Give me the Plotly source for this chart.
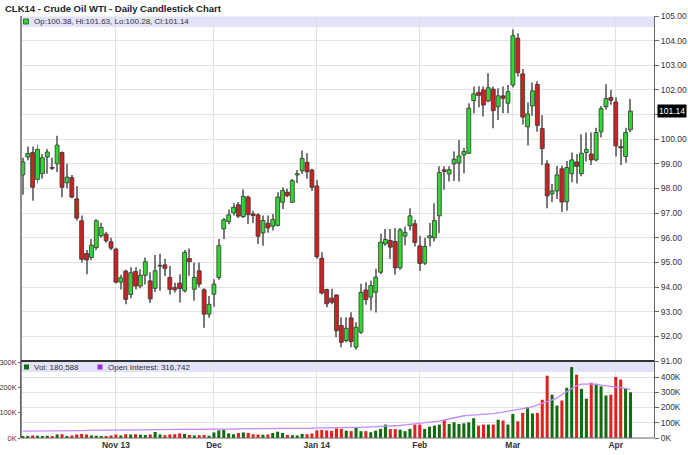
import pandas as pd
import plotly.graph_objects as go

# ---------------- data ----------------
holidays = ["2013-11-28", "2013-12-25", "2014-01-01", "2014-01-20", "2014-02-17"]
dates = [d.strftime("%Y-%m-%d") for d in pd.bdate_range("2013-10-07", "2014-04-04")
         if d.strftime("%Y-%m-%d") not in holidays]

opens = [98.55, 99.28, 99.46, 98.37, 98.60, 99.28, 98.85, 99.00, 99.46, 98.23,
         98.44, 97.58, 96.69, 95.36, 95.20, 95.60, 96.08, 96.15, 95.84, 95.54,
         94.20, 94.65, 93.70, 94.63, 94.04, 94.48, 94.25, 93.95, 94.85, 94.90,
         94.39, 93.98, 94.16, 93.85, 95.16, 93.91, 94.66, 93.89, 92.90, 93.71,
         94.39, 96.36, 96.66, 97.01, 97.34, 96.86, 97.65, 96.97, 96.93, 96.20,
         96.59, 96.47, 96.50, 97.44, 97.85, 97.44, 98.55, 98.72, 99.06, 98.75,
         98.10, 95.17, 93.90, 93.55, 93.68, 92.44, 91.83, 92.75, 91.56, 92.17,
         93.88, 93.59, 93.79, 94.60, 95.75, 95.89, 95.85, 94.78, 96.07, 96.49,
         96.57, 95.67, 94.97, 96.00, 96.00, 96.89, 98.76, 98.59, 99.00, 99.03,
         99.36, 99.43, 101.57, 101.90, 102.00, 101.55, 102.03, 101.32, 101.76, 101.46,
         102.20, 104.10, 102.65, 100.50, 101.35, 102.22, 100.43, 99.00, 97.78, 97.90,
         98.80, 97.46, 98.60, 99.08, 98.60, 99.46, 99.40, 99.16, 100.30, 101.32,
         101.69, 101.51, 99.70, 99.30, 100.38]
highs = [99.25, 99.70, 99.70, 99.78, 99.40, 99.60, 99.25, 100.14, 99.50, 99.00,
         98.55, 98.10, 96.90, 95.50, 95.95, 96.75, 96.60, 96.25, 96.00, 95.60,
         94.50, 94.70, 94.80, 94.80, 94.72, 95.20, 94.60, 95.30, 95.35, 95.15,
         94.86, 94.18, 94.52, 95.50, 95.57, 95.00, 95.00, 93.95, 93.64, 94.32,
         95.95, 96.80, 97.15, 97.40, 97.45, 97.96, 97.72, 97.10, 97.00, 96.90,
         96.90, 96.97, 97.85, 98.05, 97.99, 98.39, 98.75, 99.54, 99.43, 98.80,
         98.35, 95.41, 93.93, 93.93, 93.70, 92.78, 92.78, 92.98, 92.57, 94.13,
         94.20, 94.26, 94.74, 96.16, 96.36, 96.36, 96.40, 96.40, 96.45, 97.20,
         96.73, 96.08, 96.00, 96.60, 97.40, 98.90, 98.90, 98.90, 99.50, 99.97,
         99.64, 101.46, 102.14, 102.15, 102.14, 102.68, 102.14, 102.07, 102.14, 102.20,
         104.45, 104.30, 102.85, 101.50, 102.30, 102.35, 100.97, 99.15, 98.18, 98.92,
         98.92, 99.12, 99.46, 99.40, 100.20, 100.27, 100.27, 100.47, 101.35, 102.23,
         102.00, 101.70, 100.00, 100.47, 101.63]
lows = [97.75, 99.15, 97.50, 98.20, 98.40, 98.60, 98.75, 98.67, 97.65, 98.00,
        97.60, 96.70, 95.00, 94.52, 95.10, 95.50, 96.00, 95.80, 95.50, 94.15,
        93.90, 93.30, 93.55, 93.90, 93.95, 94.10, 93.35, 93.80, 93.85, 94.45,
        93.70, 93.78, 93.37, 93.78, 94.46, 93.44, 93.98, 92.35, 92.76, 93.20,
        94.30, 95.95, 96.55, 96.90, 96.80, 96.80, 96.56, 96.60, 95.75, 95.68,
        96.20, 96.30, 96.47, 97.17, 97.65, 97.42, 98.22, 98.60, 98.40, 97.90,
        95.15, 93.70, 93.18, 93.30, 91.96, 91.56, 91.76, 91.56, 91.46, 92.10,
        93.28, 93.05, 92.97, 94.53, 95.68, 95.14, 94.50, 94.70, 95.70, 96.30,
        95.65, 94.65, 94.90, 95.65, 95.85, 96.19, 97.95, 98.28, 98.30, 98.28,
        98.62, 99.40, 101.05, 101.30, 100.92, 101.50, 100.45, 100.78, 101.05, 101.05,
        102.10, 102.55, 100.60, 99.75, 100.95, 100.30, 98.95, 97.20, 97.45, 97.57,
        97.05, 97.10, 98.25, 98.20, 98.50, 99.10, 98.95, 99.10, 100.07, 101.20,
        101.40, 99.30, 98.95, 99.05, 100.28]
closes = [99.08, 99.42, 98.05, 99.59, 99.25, 99.48, 98.82, 99.76, 98.05, 98.46,
          97.65, 96.80, 95.13, 95.10, 95.70, 96.69, 96.42, 95.88, 95.58, 94.20,
          94.38, 93.50, 94.58, 94.04, 94.48, 95.03, 93.52, 94.66, 94.88, 94.76,
          93.91, 93.89, 93.94, 95.41, 95.03, 94.39, 94.12, 92.90, 93.30, 94.12,
          95.68, 96.73, 96.93, 97.24, 96.88, 97.68, 96.94, 96.90, 96.06, 96.70,
          96.40, 96.74, 97.65, 97.92, 97.71, 98.32, 98.60, 99.22, 98.68, 98.05,
          95.23, 93.76, 93.32, 93.38, 92.23, 91.76, 92.33, 91.79, 92.37, 93.79,
          93.49, 94.06, 94.40, 95.82, 95.93, 95.62, 94.78, 96.32, 96.22, 96.89,
          95.81, 94.96, 95.65, 96.08, 96.70, 98.65, 98.69, 98.76, 99.19, 99.32,
          99.50, 101.26, 101.84, 101.78, 101.39, 102.09, 101.16, 101.76, 101.66, 101.93,
          104.20, 102.70, 100.90, 101.03, 101.96, 100.56, 99.62, 97.70, 97.90, 98.55,
          97.45, 98.85, 99.16, 98.90, 99.43, 99.59, 99.16, 100.27, 101.24, 101.65,
          101.58, 99.73, 99.65, 100.27, 101.14]
volume_k = [6, 8, 10, 9, 7, 9, 8, 14, 15, 8,
            10, 14, 16, 14, 10, 9, 7, 8, 10, 14,
            10, 15, 14, 15, 13, 12, 14, 24, 14, 11,
            14, 15, 18, 16, 12, 10, 11, 12, 9, 22,
            30, 32, 18, 15, 20, 22, 20, 15, 14, 13,
            14, 20, 25, 20, 12, 11, 10, 16, 15, 18,
            30, 32, 30, 28, 38, 36, 29, 27, 40, 27,
            27, 23, 29, 36, 53, 35, 35, 33, 27, 36,
            53, 53, 36, 45, 49, 53, 71, 55, 62, 55,
            58, 62, 78, 49, 53, 53, 53, 72, 69, 53,
            95, 66, 99, 122, 97, 99, 151, 246, 171, 128,
            148, 198, 280, 250, 194, 155, 218, 214, 204, 168,
            171, 241, 231, 194, 180.588]
open_interest_k = [45, 45, 46, 46, 46, 47, 47, 47, 48, 48,
                   48, 49, 49, 50, 50, 50, 51, 51, 52, 52,
                   52, 53, 53, 53, 54, 54, 54, 55, 55, 55,
                   55, 56, 56, 56, 57, 57, 57, 58, 58, 58,
                   58, 59, 59, 59, 60, 60, 60, 60, 61, 61,
                   61, 61, 62, 62, 62, 62, 63, 63, 63, 64,
                   66, 66, 67, 67, 68, 68, 69, 69, 70, 70,
                   71, 72, 73, 74, 75, 76, 78, 82, 86, 89,
                   92, 96, 99, 102, 106, 111, 118, 125, 132, 139,
                   146, 148, 150, 152, 154, 155, 160, 165, 170, 175,
                   180, 186, 192, 198, 206, 215, 226, 238, 250, 261,
                   285, 305, 327, 342, 353, 355, 355, 352, 348, 342,
                   340, 338, 334, 326, 316.742]

month_ticks = ["2013-11-01", "2013-12-02", "2014-01-02", "2014-02-03", "2014-03-03", "2014-04-01"]
month_labels = ["Nov 13", "Dec", "Jan 14", "Feb", "Mar", "Apr"]
price_ticks = list(range(91, 106))
vol_ticks = [0, 100, 200, 300]
oi_ticks = [0, 100, 200, 300, 400]
title_text = "CLK14 - Crude Oil WTI - Daily Candlestick Chart"
price_legend = "Op:100.38, Hi:101.63, Lo:100.28, Cl:101.14"
vol_legend = "Vol: 180,588"
oi_legend = "Open Interest: 316,742"
last_close_label = "101.14"

# ---------------- styling ----------------
W, H = 688, 455
L, R, T, B = 21, 34, 16, 17
PW, PH = W - L - R, H - T - B
VOL_PX = 77
FONT = "Liberation Sans, Arial, sans-serif"
GRID = "#e2e2e2"
AXIS = "#666666"
GREEN = "#33d633"
RED = "#d12020"
VGREEN = "#116b11"
VRED = "#e3201c"


def px(x):
    return (x - L) / PW


def py(y):
    return (H - B - y) / PH


vol_dom = VOL_PX / PH

up = [c >= o for o, c in zip(opens, closes)]
body_base = [min(o, c) for o, c in zip(opens, closes)]
body_len = [max(abs(c - o), 0.03) for o, c in zip(opens, closes)]
wick_len = [h - l for h, l in zip(highs, lows)]

fig = go.Figure()
fig.add_trace(go.Bar(
    x=dates, base=lows, y=wick_len, width=0.2,
    marker=dict(color="#7a7a7a", line=dict(width=0)),
    xaxis="x", yaxis="y", showlegend=False, hoverinfo="skip"))
fig.add_trace(go.Bar(
    x=dates, base=body_base, y=body_len, width=0.8,
    marker=dict(color=[GREEN if u else RED for u in up],
                line=dict(color="#333333", width=0.8)),
    xaxis="x", yaxis="y", showlegend=False, hoverinfo="skip"))

vol_colors = [VGREEN if u else VRED for u in up]
fig.add_trace(go.Bar(
    x=dates, y=[v * 1000 for v in volume_k], marker=dict(color=vol_colors, line=dict(width=0)),
    width=0.62, xaxis="x2", yaxis="y2", showlegend=False, hoverinfo="skip"))
fig.add_trace(go.Scatter(
    x=dates, y=[v * 1000 for v in open_interest_k], mode="lines",
    line=dict(color="#c58cff", width=1.3), xaxis="x2", yaxis="y3",
    showlegend=False, hoverinfo="skip"))

xr = [-0.37, len(dates) - 1 + 4.8]
tickfont = dict(family=FONT, size=8.5, color="#333333")

fig.update_layout(
    width=W, height=H, margin=dict(l=L, r=R, t=T, b=B, pad=0, autoexpand=False),
    paper_bgcolor="white", plot_bgcolor="white", showlegend=False,
    barmode="overlay",
    font=dict(family=FONT, size=9, color="#333"),
    title=dict(text="<b>" + title_text + "</b>", x=5 / W, y=1 - 9 / H,
               xanchor="left", yanchor="middle", xref="container", yref="container",
               font=dict(family=FONT, size=9.5, color="#222")),
    xaxis=dict(type="category", domain=[0, 1], anchor="y", range=xr,
               categoryorder="array", categoryarray=dates, automargin=False,
               tickvals=month_ticks, showticklabels=False, showgrid=True,
               gridcolor=GRID, ticks="", zeroline=False, showline=False),
    xaxis2=dict(type="category", domain=[0, 1], anchor="y2", range=xr, matches="x",
                categoryorder="array", categoryarray=dates, automargin=False,
                tickvals=month_ticks, ticktext=["<b>" + t + "</b>" for t in month_labels],
                tickfont=dict(family=FONT, size=8.5, color="#333"),
                showgrid=True, gridcolor=GRID, ticks="", zeroline=False, showline=False),
    yaxis=dict(domain=[vol_dom, 1], anchor="x", side="right", range=[91, 105],
               tickvals=price_ticks, automargin=False,
               ticktext=["" if p == 101 else "%.2f" % p for p in price_ticks],
               tickfont=tickfont, showgrid=True, gridcolor=GRID, ticks="outside",
               ticklen=4, tickcolor=AXIS, showline=True, linecolor=AXIS,
               zeroline=False),
    yaxis2=dict(domain=[0, vol_dom], anchor="x2", side="left", automargin=False,
                range=[0, 304000], tickvals=[v * 1000 for v in vol_ticks],
                ticktext=["%dK" % v for v in vol_ticks],
                tickfont=dict(family=FONT, size=7.3, color="#333333"),
                showgrid=False, ticks="outside", ticklen=2, tickcolor=AXIS,
                showline=True, linecolor=AXIS, zeroline=False),
    yaxis3=dict(overlaying="y2", anchor="x2", side="right", automargin=False,
                range=[0, 505000], tickvals=[v * 1000 for v in oi_ticks],
                ticktext=["%dK" % v for v in oi_ticks], tickfont=tickfont,
                showgrid=True, gridcolor=GRID, ticks="outside", ticklen=4,
                tickcolor=AXIS, showline=True, linecolor=AXIS, zeroline=False),
)

shapes = []
shapes.append(dict(type="rect", xref="paper", yref="paper", x0=0, x1=1,
                   y0=py(27), y1=py(16.5), fillcolor="#e2e2f8", line=dict(width=0), layer="below"))
shapes.append(dict(type="rect", xref="paper", yref="paper", x0=0, x1=1,
                   y0=py(372), y1=py(362), fillcolor="#e2e2f8", line=dict(width=0), layer="below"))
shapes.append(dict(type="line", xref="paper", yref="paper", x0=0, x1=0, y0=0, y1=1,
                   line=dict(color=AXIS, width=1.5)))
shapes.append(dict(type="line", xref="paper", yref="paper", x0=0, x1=1, y0=0, y1=0,
                   line=dict(color=AXIS, width=1)))
shapes.append(dict(type="line", xref="paper", yref="paper", x0=0, x1=1, y0=vol_dom, y1=vol_dom,
                   line=dict(color="#333333", width=2)))
shapes.append(dict(type="rect", xref="paper", yref="paper", x0=px(23.5), x1=px(28.5),
                   y0=py(24), y1=py(19), fillcolor=GREEN, line=dict(color="#225522", width=0.8)))
shapes.append(dict(type="rect", xref="paper", yref="paper", x0=px(24), x1=px(29),
                   y0=py(369.5), y1=py(364.5), fillcolor=VGREEN, line=dict(width=0)))
shapes.append(dict(type="rect", xref="paper", yref="paper", x0=px(97.5), x1=px(102.5),
                   y0=py(369.5), y1=py(364.5), fillcolor="#9b2bd8", line=dict(width=0)))
fig.update_layout(shapes=shapes)

ann = []
ann.append(dict(text=price_legend, xref="paper", yref="paper", x=px(31.5), y=py(21.8),
                xanchor="left", yanchor="middle", showarrow=False,
                font=dict(family=FONT, size=8, color="#333")))
ann.append(dict(text=vol_legend, xref="paper", yref="paper", x=px(31.5), y=py(367),
                xanchor="left", yanchor="middle", showarrow=False,
                font=dict(family=FONT, size=8, color="#333")))
ann.append(dict(text=oi_legend, xref="paper", yref="paper", x=px(106), y=py(367),
                xanchor="left", yanchor="middle", showarrow=False,
                font=dict(family=FONT, size=8, color="#333")))
ann.append(dict(text=last_close_label, xref="paper", yref="y", x=1, y=closes[-1],
                xanchor="left", yanchor="middle", xshift=3, showarrow=False,
                bgcolor="#000000", borderpad=1,
                font=dict(family=FONT, size=8.5, color="#ffffff")))
fig.update_layout(annotations=ann)

fig.write_html("out.html", config={"displayModeBar": False},
               post_script="document.body.style.margin='0';document.body.style.padding='0';"
                           "document.body.style.overflow='hidden';")
